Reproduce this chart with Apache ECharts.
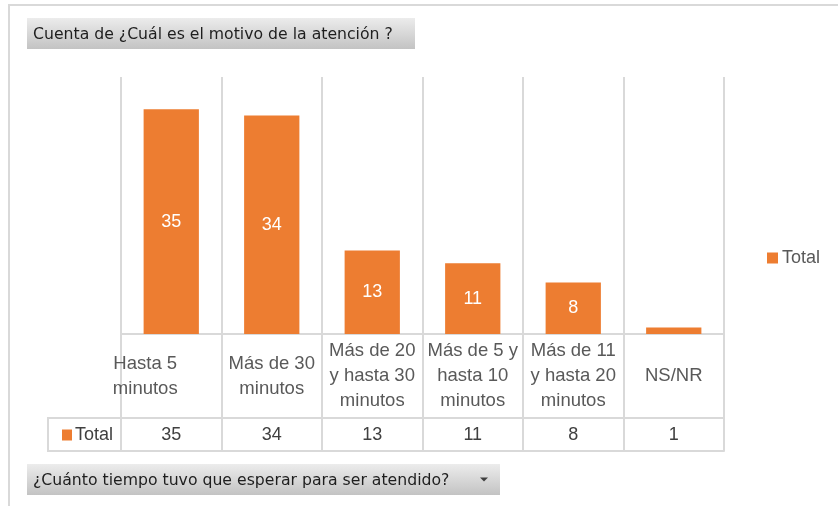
<!DOCTYPE html>
<html>
<head>
<meta charset="utf-8">
<style>
html,body{margin:0;padding:0;background:#fff;}
#c{width:838px;height:506px;}
</style>
<script src="https://cdn.jsdelivr.net/npm/echarts@6/dist/echarts.min.js"></script>
</head>
<body>
<div id="c"></div>
<script>
var categories = ["Hasta 5\nminutos", "Más de 30\nminutos", "Más de 20\ny hasta 30\nminutos", "Más de 5 y\nhasta 10\nminutos", "Más de 11\ny hasta 20\nminutos", "NS/NR"];
var totals = [35, 34, 13, 11, 8, 1];
var seriesName = "Total";
var titleText = "Cuenta de ¿Cuál es el motivo de la atención ?";
var filterText = "¿Cuánto tiempo tuvo que esperar para ser atendido?";

var chart = echarts.init(document.getElementById('c'), null, {renderer: 'canvas'});
var gridColor = '#d9d9d9';
var lbl = '#595959';
var font = 'Liberation Sans, Arial, sans-serif';
var btnFont = 'DejaVu Sans, Tahoma, sans-serif';
var orange = '#ED7D31';

var barData = totals.map(function (v) {
  return v < 2 ? {value: v, label: {show: false}} : v;
});

function button(x, y, w, h, text, arrow) {
  var children = [
    {type: 'rect', shape: {x: x, y: y, width: w, height: h},
      style: {fill: new echarts.graphic.LinearGradient(0, 0, 0, 1, [
        {offset: 0, color: '#ececec'}, {offset: 1, color: '#c3c3c3'}])}},
    {type: 'text', style: {x: x + 6, y: y + h / 2 + 1, text: text, font: '15.7px ' + btnFont,
      fill: '#1e1e1e', verticalAlign: 'middle'}}
  ];
  if (arrow) {
    children.push({type: 'polygon', shape: {points: [[x + w - 20, y + h / 2 - 2], [x + w - 12, y + h / 2 - 2], [x + w - 16, y + h / 2 + 2]]},
      style: {fill: '#404040'}});
  }
  return {type: 'group', children: children};
}

var option = {
  animation: false,
  textStyle: {fontFamily: font},
  legend: [
    {data: [seriesName], left: 762, top: 244, itemWidth: 11, itemHeight: 11, itemGap: 0,
      icon: 'rect', selectedMode: false, textStyle: {fontSize: 18, color: lbl, padding: [0, 0, 0, -1]}},
    {data: [seriesName], left: 57, top: 421, itemWidth: 10, itemHeight: 11,
      icon: 'rect', selectedMode: false, textStyle: {fontSize: 18, color: '#404040', padding: [0, 0, 0, -2]}}
  ],
  grid: [
    {left: 121, right: 114, top: 77, height: 257},
    {left: 121, right: 114, top: 334, height: 84},
    {left: 121, right: 114, top: 418, height: 33}
  ],
  xAxis: [
    {type: 'category', gridIndex: 0, data: categories,
      axisLine: {show: true, lineStyle: {color: gridColor, width: 2}},
      axisTick: {show: false},
      splitLine: {show: true, lineStyle: {color: gridColor, width: 2}},
      axisLabel: {interval: 0, margin: 42, verticalAlign: 'middle', color: lbl, fontSize: 18.5,
        lineHeight: 25, fontFamily: font,
        formatter: function (v, i) { return i === 0 ? '{a|' + v + '}' : v; },
        rich: {a: {fontSize: 18.5, lineHeight: 25, color: lbl, padding: [0, 52, 0, 0]}}}},
    {type: 'category', gridIndex: 1, data: categories,
      axisLine: {show: true, lineStyle: {color: gridColor, width: 2}},
      axisTick: {show: false}, axisLabel: {show: false},
      splitLine: {show: true, lineStyle: {color: gridColor, width: 2}}},
    {type: 'category', gridIndex: 2, data: categories,
      axisLine: {show: true, lineStyle: {color: gridColor, width: 2}},
      axisTick: {show: false},
      splitLine: {show: true, lineStyle: {color: gridColor, width: 2}},
      axisLabel: {inside: true, interval: 0, margin: 16, verticalAlign: 'middle', color: '#404040', fontSize: 18,
        formatter: function (v, i) { return String(totals[i]); }}}
  ],
  yAxis: [
    {type: 'value', gridIndex: 0, min: 0, max: 40, show: false},
    {type: 'value', gridIndex: 1, show: false},
    {type: 'value', gridIndex: 2, show: false}
  ],
  series: [{
    name: seriesName, type: 'bar', xAxisIndex: 0, yAxisIndex: 0,
    data: barData, barWidth: '55%',
    itemStyle: {color: orange},
    label: {show: true, position: 'inside', color: '#fff', fontSize: 18, fontFamily: font}
  }],
  graphic: [
    {type: 'line', shape: {x1: 8, y1: 5, x2: 838, y2: 5}, style: {stroke: '#d9d9d9', lineWidth: 2}},
    {type: 'line', shape: {x1: 9, y1: 5, x2: 9, y2: 506}, style: {stroke: '#d9d9d9', lineWidth: 2}},
    {type: 'line', shape: {x1: 48, y1: 418, x2: 122, y2: 418}, style: {stroke: gridColor, lineWidth: 2}},
    {type: 'line', shape: {x1: 48, y1: 451, x2: 122, y2: 451}, style: {stroke: gridColor, lineWidth: 2}},
    {type: 'line', shape: {x1: 48, y1: 417, x2: 48, y2: 452}, style: {stroke: gridColor, lineWidth: 2}},
    button(27, 18, 388, 31, titleText, false),
    button(27, 464, 473, 31, filterText, true)
  ]
};
chart.setOption(option);
</script>
</body>
</html>
